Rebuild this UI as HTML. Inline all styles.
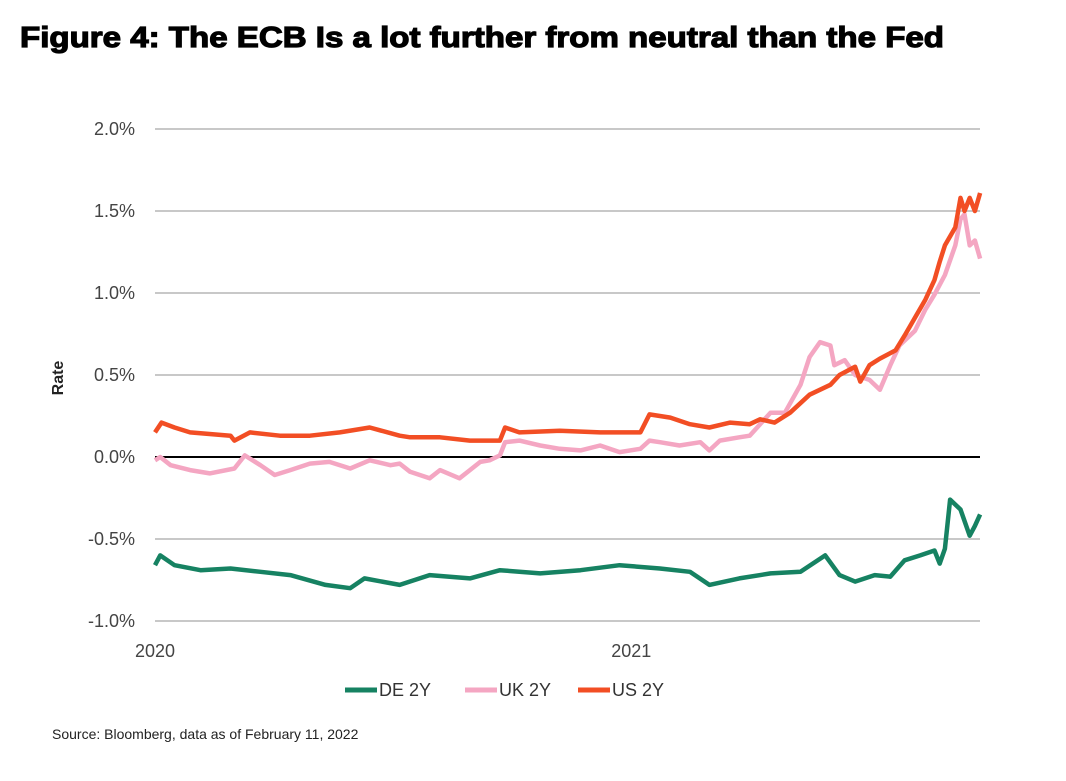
<!DOCTYPE html>
<html><head><meta charset="utf-8"><style>
body{margin:0;background:#fff;font-family:"Liberation Sans",sans-serif;}
</style></head><body>
<svg width="1066" height="776" xmlns="http://www.w3.org/2000/svg">
<text x="20" y="47" font-family="Liberation Sans" font-weight="900" font-size="29" fill="#000" stroke="#000" stroke-width="1.2" textLength="924" lengthAdjust="spacingAndGlyphs">Figure 4: The ECB Is a lot further from neutral than the Fed</text>
<g id="grid"></g><g id="series"></g>
<text transform="translate(63,378) rotate(-90)" text-anchor="middle" font-size="16" font-weight="bold" fill="#222">Rate</text>
<text x="52" y="739" font-size="14" fill="#222">Source: Bloomberg, data as of February 11, 2022</text>
<g id="legend"></g>
</svg>
<script>
const yTicks=[2.0,1.5,1.0,0.5,0.0,-0.5,-1.0];
const xTickLabels=["2020","2021"];
const xTickDays=[0,366];
const seriesNames=["DE 2Y","UK 2Y","US 2Y"];
const usDays=[0,5,15,27,58,61,73,96,119,142,165,188,196,219,242,265,269,280,311,342,373,380,396,411,426,442,457,465,476,488,503,519,526,538,542,549,557,569,576,584,592,599,603,607,615,619,622,626,630,634];
const usVals=[0.15,0.21,0.18,0.15,0.13,0.10,0.15,0.13,0.13,0.15,0.18,0.13,0.12,0.12,0.10,0.10,0.18,0.15,0.16,0.15,0.15,0.26,0.24,0.20,0.18,0.21,0.20,0.23,0.21,0.27,0.38,0.44,0.50,0.55,0.46,0.56,0.60,0.65,0.74,0.85,0.96,1.08,1.19,1.29,1.40,1.58,1.50,1.58,1.50,1.61];
const ukDays=[0,4,12,27,42,61,69,81,92,104,119,134,150,165,181,188,196,211,219,234,242,250,257,265,269,280,296,311,327,342,357,373,380,388,403,419,426,434,449,457,465,473,484,496,503,511,519,522,530,538,549,557,565,572,584,592,599,607,615,619,622,626,630,634];
const ukVals=[-0.02,0,-0.05,-0.08,-0.10,-0.07,0.01,-0.05,-0.11,-0.08,-0.04,-0.03,-0.07,-0.02,-0.05,-0.04,-0.09,-0.13,-0.08,-0.13,-0.08,-0.03,-0.02,0.01,0.09,0.10,0.07,0.05,0.04,0.07,0.03,0.05,0.10,0.09,0.07,0.09,0.04,0.10,0.12,0.13,0.20,0.27,0.27,0.44,0.61,0.70,0.68,0.56,0.59,0.50,0.47,0.41,0.56,0.68,0.77,0.90,0.99,1.11,1.29,1.45,1.48,1.29,1.32,1.21];
const deDays=[0,4,15,35,58,81,104,131,150,161,188,211,242,265,296,327,357,388,411,426,449,473,496,515,526,538,553,565,576,588,599,603,607,611,619,626,630,634];
const deVals=[-0.66,-0.60,-0.66,-0.69,-0.68,-0.70,-0.72,-0.78,-0.80,-0.74,-0.78,-0.72,-0.74,-0.69,-0.71,-0.69,-0.66,-0.68,-0.70,-0.78,-0.74,-0.71,-0.70,-0.60,-0.72,-0.76,-0.72,-0.73,-0.63,-0.60,-0.57,-0.65,-0.56,-0.26,-0.32,-0.48,-0.42,-0.35];
const NS="http://www.w3.org/2000/svg";
const X0=155,X1=980;
function x(d){return X0+d/365*475;}
function y(v){return 457-v*164;}
function mk(tag,attrs,parent){const e=document.createElementNS(NS,tag);for(const k in attrs)e.setAttribute(k,attrs[k]);parent.appendChild(e);return e;}
const grid=document.getElementById('grid');
yTicks.forEach(t=>{
  const l=mk('line',{x1:X0,x2:X1,y1:y(t),y2:y(t),stroke:t===0?'#000':'#b5b5b5','stroke-width':t===0?2:1.5},grid);
  
  
  const tx=mk('text',{x:135,y:y(t)+6,'text-anchor':'end','font-size':18,fill:'#444'},grid);
  tx.textContent=t.toFixed(1)+'%';
  
  
});
xTickLabels.forEach((lab,i)=>{
  const tx=mk('text',{x:x(xTickDays[i]),y:657,'text-anchor':'middle','font-size':18,fill:'#444'},grid);
  tx.textContent=lab;
  
  
});
const ser=document.getElementById('series');
const defs=[[deDays,deVals,'#168262','de-2y-line'],[ukDays,ukVals,'#f4a6c2','uk-2y-line'],[usDays,usVals,'#f24e24','us-2y-line']];
defs.forEach(([ds,vs,c,n])=>{
  const p=mk('polyline',{points:ds.map((d,i)=>x(d).toFixed(1)+','+y(vs[i]).toFixed(1)).join(' '),fill:'none',stroke:c,'stroke-width':4.5,'stroke-linejoin':'round'},ser);
  
  
});
const leg=document.getElementById('legend');
const lx=[345,465,578],cols=['#168262','#f4a6c2','#f24e24'];
seriesNames.forEach((s,i)=>{
  const l=mk('line',{x1:lx[i],x2:lx[i]+32,y1:690,y2:690,stroke:cols[i],'stroke-width':5},leg);
  
  
  const t=mk('text',{x:lx[i]+34,y:696,'font-size':18,fill:'#333'},leg);
  t.textContent=s;
  
  
});
</script>
</body></html>
